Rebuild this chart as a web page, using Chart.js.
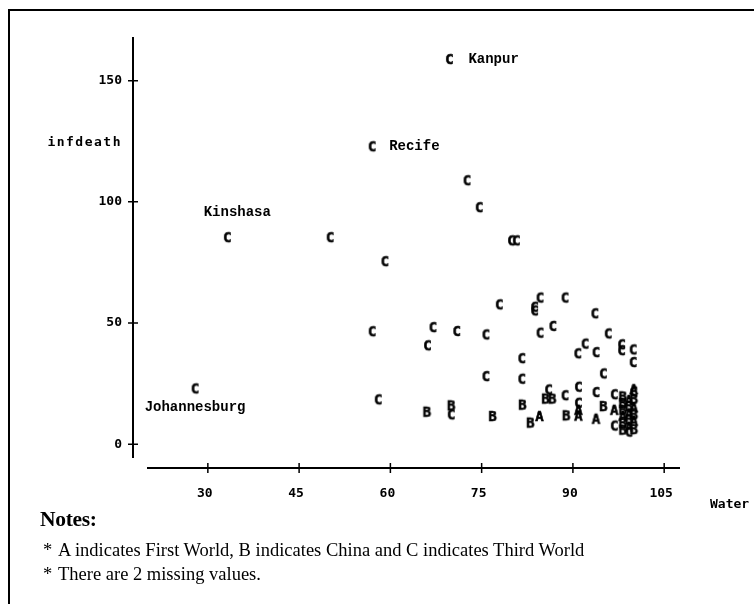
<!doctype html>
<html>
<head>
<title>infdeath by Water</title>
<script src="https://cdn.jsdelivr.net/npm/chart.js@4.4.1/dist/chart.umd.min.js"></script>
<style>
  body { margin: 0; background: #fff; }
  #wrap { position: relative; width: 754px; height: 604px; overflow: hidden; }
  #frame { position: absolute; left: 8px; top: 9px; width: 760px; height: 620px;
           border-top: 2px solid #000; border-left: 2px solid #000; }
  canvas { position: absolute; left: 0; top: 0; }
  .note { position: absolute; font-family: "Liberation Serif", serif; font-size: 18.5px;
          line-height: 18px; color: #000; white-space: nowrap; }
</style>
</head>
<body>
<div id="wrap">
  <div id="frame"></div>
  <canvas id="plot" width="754" height="604"></canvas>
  <div class="note" style="left:40px; top:510px; font-weight:bold; font-size:21.5px; letter-spacing:-0.3px;">Notes:</div>
  <div class="note" style="left:43px; top:541px;">*</div>
  <div class="note" style="left:58px; top:541px;">A indicates First World, B indicates China and C indicates Third World</div>
  <div class="note" style="left:43px; top:565px;">*</div>
  <div class="note" style="left:58px; top:565px;">There are 2 missing values.</div>
</div>
<script>
// % with access to water, infant deaths, group letter (A first world, B China, C third world)
var water = [
  69.7, 57.0, 33.2, 50.1, 59.1, 72.6, 74.6, 79.9, 80.7, 57.0,
  27.9, 58.0, 77.9, 84.6, 83.7, 83.7, 88.7, 93.6, 67.0, 66.1,
  70.9, 75.7, 84.6, 86.7, 95.8, 92.0, 90.8, 93.8, 98.0, 98.0,
  99.9, 99.9, 81.6, 75.7, 81.6, 95.0, 66.0, 70.0, 70.0, 76.8,
  81.7, 83.0, 84.5, 86.0, 85.5, 86.6, 88.7, 90.9, 90.9, 90.9,
  90.9, 88.9, 93.8, 95.0, 93.8,
  96.8, 96.8, 96.8, 98.2, 98.2, 98.2, 98.2, 98.2, 98.2, 99.2,
  99.2, 99.2, 99.2, 99.2, 100.0, 100.0, 100.0, 100.0, 100.0, 100.0,
  100.0, 99.2
];
var infdeath = [
  158.7, 122.7, 85.2, 85.2, 75.3, 108.7, 97.6, 83.9, 83.9, 46.4,
  22.8, 18.3, 57.5, 60.3, 56.5, 55.0, 60.3, 53.8, 48.1, 40.6,
  46.5, 45.1, 45.8, 48.6, 45.5, 41.3, 37.3, 37.8, 41.0, 38.6,
  38.9, 33.7, 35.3, 27.9, 26.8, 29.0, 13.2, 15.8, 12.1, 11.4,
  16.1, 8.7, 11.4, 22.4, 18.6, 18.6, 20.0, 23.5, 16.9, 14.0,
  11.6, 11.7, 21.3, 15.5, 10.3,
  20.4, 7.5, 14.0, 19.5, 16.8, 14.0, 11.5, 8.5, 5.8, 18.0,
  15.5, 12.5, 10.0, 7.0, 21.5, 22.5, 18.5, 15.0, 12.0, 9.5,
  6.0, 5.0
];
var world = [
  'C','C','C','C','C','C','C','C','C','C',
  'C','C','C','C','C','C','C','C','C','C',
  'C','C','C','C','C','C','C','C','C','C',
  'C','C','C','C','C','C','B','B','C','B',
  'B','B','A','C','B','B','C','C','C','A',
  'A','B','C','B','A',
  'C','C','A','B','B','B','A','B','B','A',
  'B','A','B','A','C','A','B','A','B','A',
  'B','C'
];
// labelled cities (index into the arrays above)
var cityNames = ['Kanpur', 'Recife', 'Kinshasa', 'Johannesburg'];
var cityIndex = [0, 1, 2, 10];

var xTicks = [30, 45, 60, 75, 90, 105];
var yTicks = [0, 50, 100, 150];

var monoFont = '"DejaVu Sans Mono", "Liberation Mono", monospace';
var nameFont = '"Liberation Mono", "DejaVu Sans Mono", monospace';

// letter markers
function letterImage(ch) {
    var c = document.createElement('canvas');
    c.width = 13; c.height = 15;
    var g = c.getContext('2d');
    g.font = 'bold 14px ' + monoFont;
    g.fillStyle = '#000';
    g.strokeStyle = '#000';
    g.lineWidth = 0.6;
    g.textAlign = 'center';
    g.textBaseline = 'middle';
    g.fillText(ch, 6.5, 8);
    g.strokeText(ch, 6.5, 8);
    return c;
}
var letters = { A: letterImage('A'), B: letterImage('B'), C: letterImage('C') };

var points = [];
for (var i = 0; i < water.length; i++) {
    points.push({ x: water[i], y: infdeath[i] });
}

// offsets of the city names from their points
var cityOffsets = {
    Kanpur: [19, 0, 'left'],
    Recife: [17, 0, 'left'],
    Kinshasa: [10, -25, 'center'],
    Johannesburg: [0, 19, 'center']
};

var sasAxes = {
    id: 'sasAxes',
    afterDraw: function(chart) {
        var ctx = chart.ctx;
        var xs = chart.scales.x, ys = chart.scales.y;
        var area = chart.chartArea;
        var ax = area.left - 14;     // y axis sits left of the plot
        var ay = area.bottom + 10;   // x axis sits below the plot
        ctx.save();
        ctx.strokeStyle = '#000';
        ctx.lineWidth = 2;
        ctx.beginPath();
        ctx.moveTo(ax, area.top);
        ctx.lineTo(ax, area.bottom);
        ctx.moveTo(area.left, ay);
        ctx.lineTo(area.right, ay);
        ctx.stroke();
        ctx.lineWidth = 1.5;
        ctx.beginPath();
        yTicks.forEach(function(v) {
            var p = ys.getPixelForValue(v);
            ctx.moveTo(ax - 5, p);
            ctx.lineTo(ax + 5, p);
        });
        xTicks.forEach(function(v) {
            var p = xs.getPixelForValue(v);
            ctx.moveTo(p, ay - 5);
            ctx.lineTo(p, ay + 5);
        });
        ctx.stroke();

        ctx.fillStyle = '#000';
        ctx.font = 'bold 13px ' + monoFont;
        ctx.textBaseline = 'middle';
        ctx.textAlign = 'right';
        ctx.letterSpacing = '1.5px';
        ctx.fillText('infdeath', 122, 143);
        ctx.letterSpacing = '0px';
        ctx.textAlign = 'left';
        ctx.fillText('Water', 710, 505);

        // city names
        ctx.font = 'bold 14px ' + nameFont;
        cityIndex.forEach(function(idx, k) {
            var name = cityNames[k];
            var off = cityOffsets[name];
            var px = xs.getPixelForValue(water[idx]);
            var py = ys.getPixelForValue(infdeath[idx]);
            ctx.textAlign = off[2];
            ctx.fillText(name, px + off[0], py + off[1]);
        });
        ctx.restore();
    }
};

var tickFont = { family: monoFont, size: 13, weight: 'bold' };

new Chart(document.getElementById('plot').getContext('2d'), {
    type: 'scatter',
    data: {
        datasets: [{
            data: points,
            pointStyle: function(c) { return letters[world[c.dataIndex]]; },
            pointRadius: 5,
            clip: false
        }]
    },
    options: {
        responsive: false,
        animation: false,
        layout: { padding: { top: 37, right: 74, left: 0, bottom: 0 } },
        plugins: { legend: { display: false }, tooltip: { enabled: false } },
        scales: {
            x: {
                type: 'linear',
                min: 20,
                max: 107.6,
                afterFit: function(s) { s.height = 146; },
                afterBuildTicks: function(s) { s.ticks = xTicks.map(function(v) { return { value: v }; }); },
                grid: { display: false, drawTicks: false },
                border: { display: false },
                ticks: { font: tickFont, color: '#000', padding: 28, labelOffset: -3, autoSkip: false, maxRotation: 0 }
            },
            y: {
                type: 'linear',
                min: -5.7,
                max: 168,
                afterFit: function(s) { s.width = 147; },
                afterBuildTicks: function(s) { s.ticks = yTicks.map(function(v) { return { value: v }; }); },
                grid: { display: false, drawTicks: false },
                border: { display: false },
                ticks: { font: tickFont, color: '#000', padding: 25, autoSkip: false }
            }
        }
    },
    plugins: [sasAxes]
});
</script>
</body>
</html>
